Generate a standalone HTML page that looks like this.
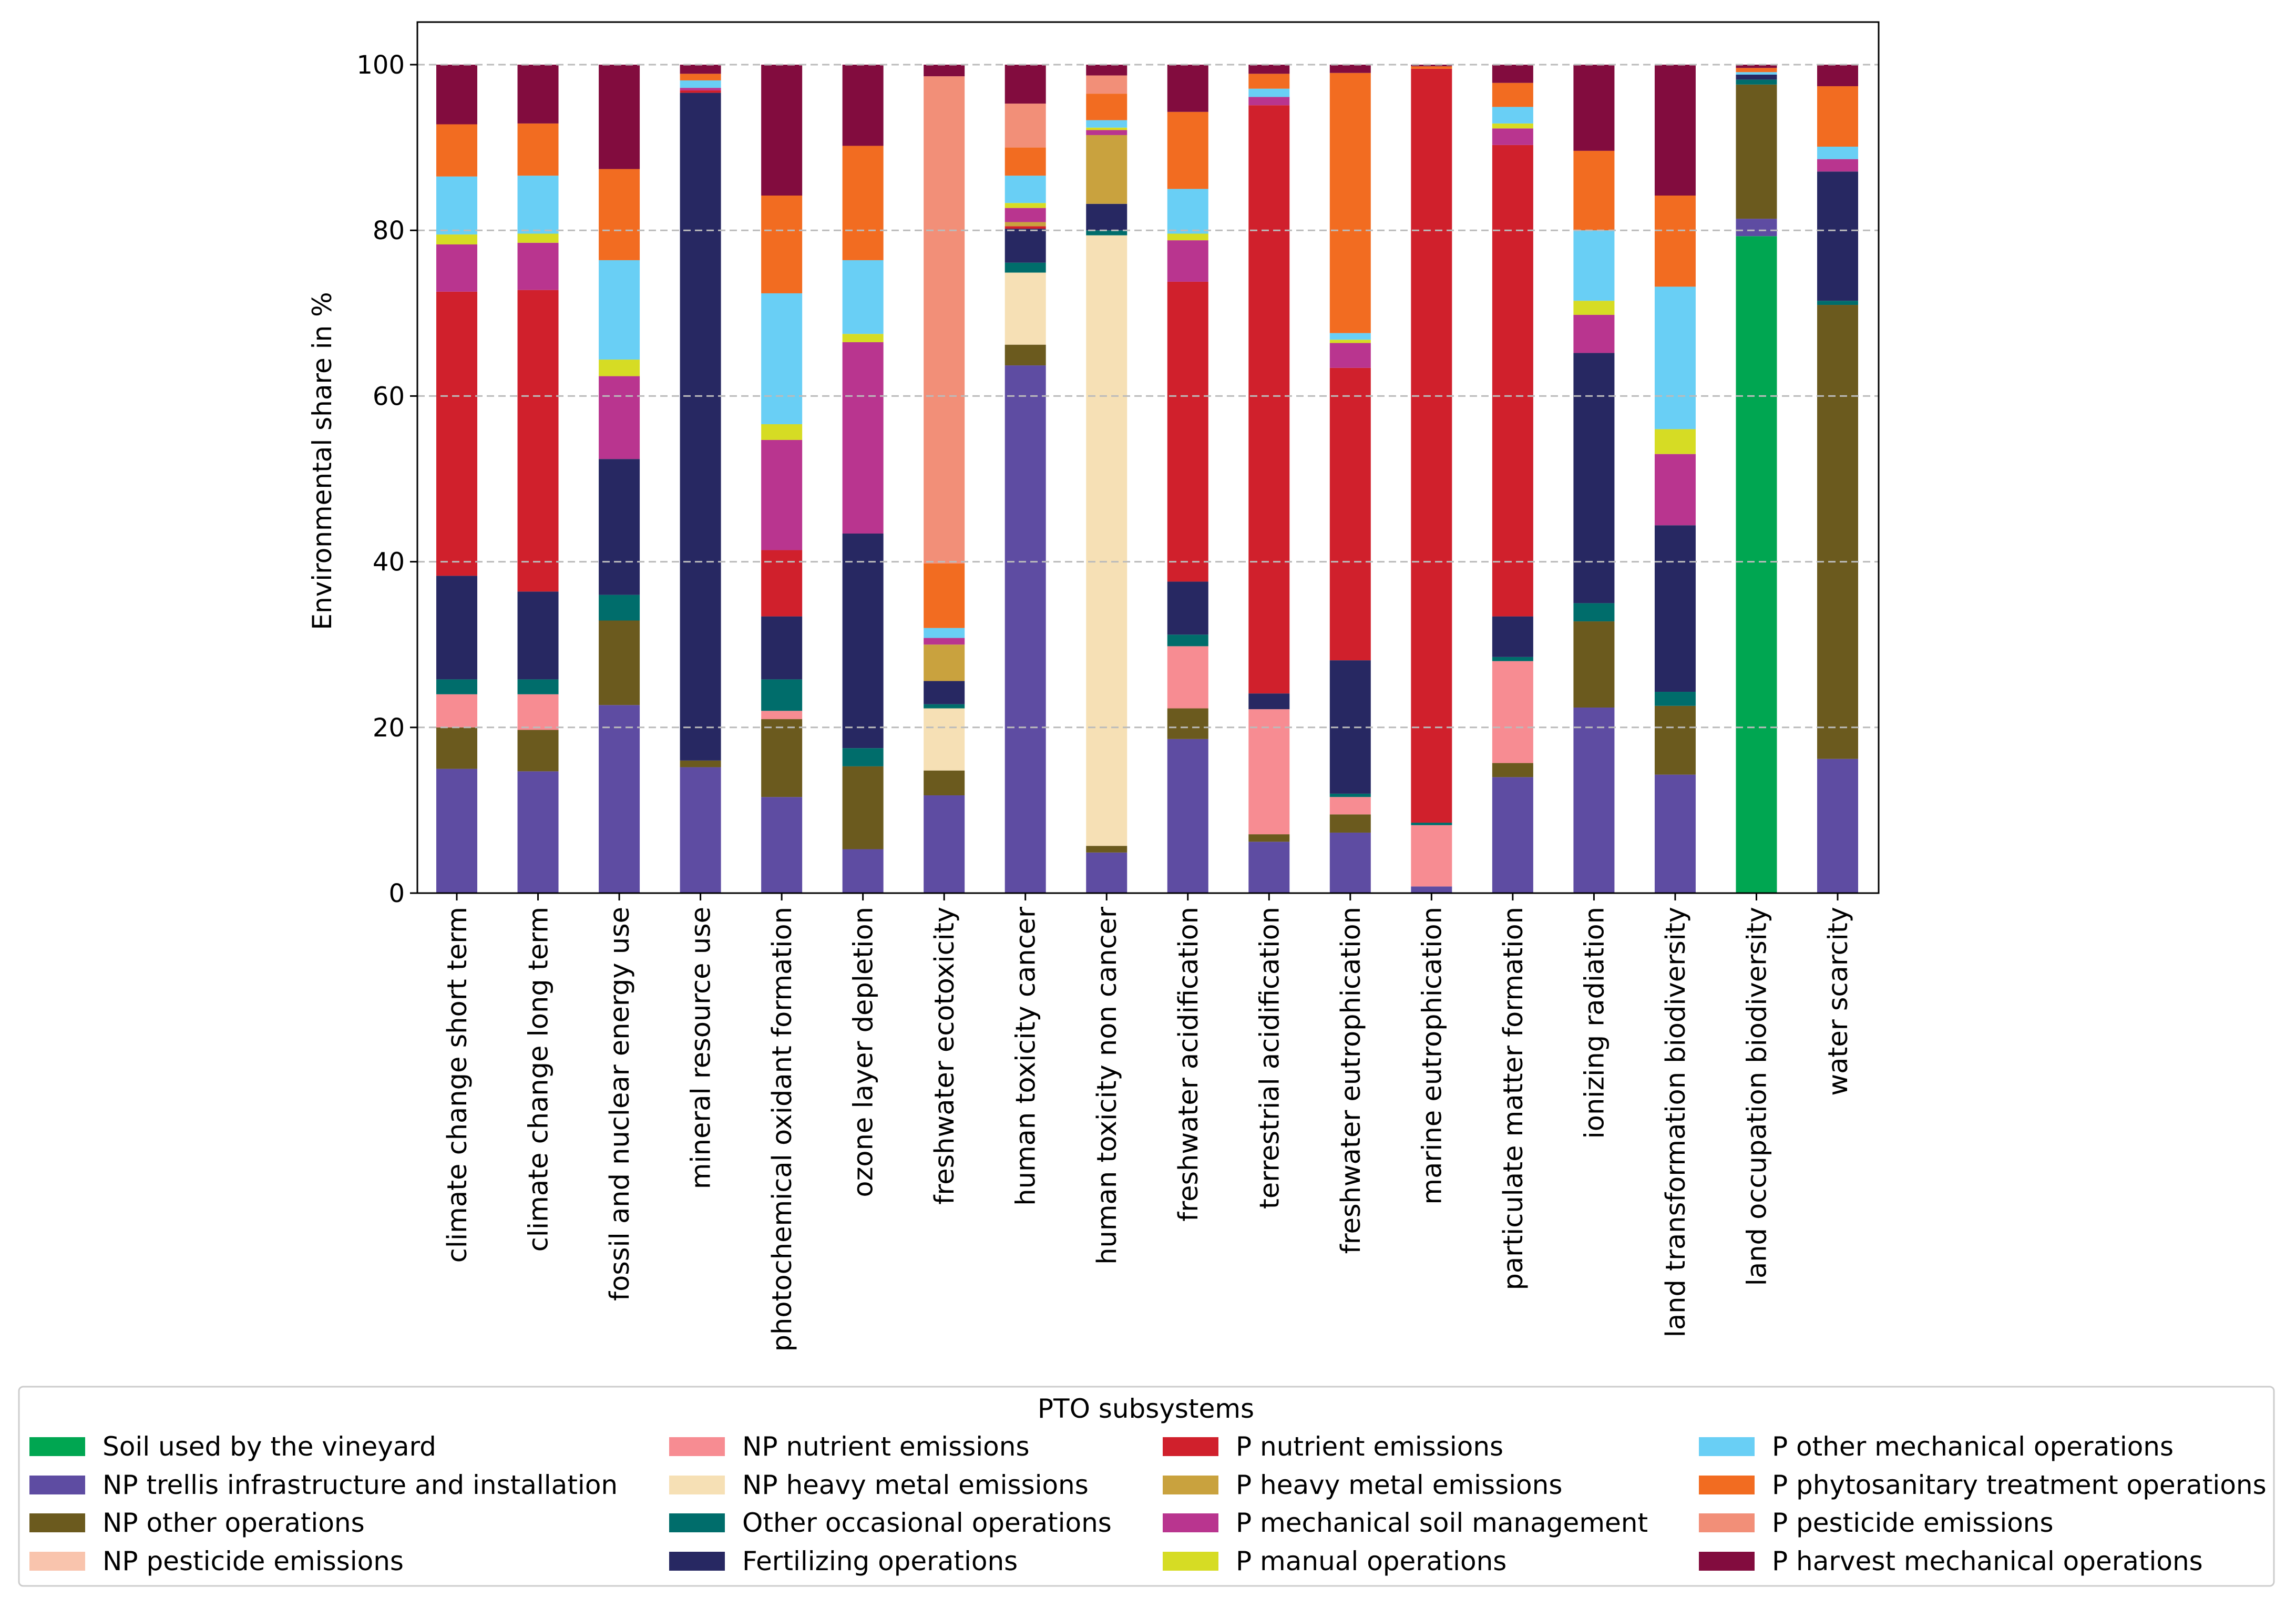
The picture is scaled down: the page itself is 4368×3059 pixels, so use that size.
<!DOCTYPE html>
<html><head><meta charset="utf-8"><style>
html,body{margin:0;padding:0;background:#fff;}
svg{display:block;font-family:"DejaVu Sans","Liberation Sans",sans-serif;}
</style></head><body>
<svg id="chart" xmlns="http://www.w3.org/2000/svg" width="4368" height="3059" viewBox="0 0 4368 3059">
<rect x="0" y="0" width="4368" height="3059" fill="#fff"/>
<g id="bars"></g>
<g id="grid"></g>
<rect x="794" y="42" width="2780" height="1657" fill="none" stroke="#000" stroke-width="3"/>
<g id="yaxis"></g>
<g id="xaxis"></g>
<text x="0" y="0" transform="translate(630,877) rotate(-90)" text-anchor="middle" font-size="50">Environmental share in %</text>
<g id="legend">
<rect x="36" y="2638" width="4290" height="379" rx="8" fill="#fff" stroke="#ccc" stroke-width="3"/>
<text x="2180" y="2697" text-anchor="middle" font-size="50">PTO subsystems</text>
</g>
</svg>
<script>
const categories = ["climate change short term","climate change long term","fossil and nuclear energy use","mineral resource use","photochemical oxidant formation","ozone layer depletion","freshwater ecotoxicity","human toxicity cancer","human toxicity non cancer","freshwater acidification","terrestrial acidification","freshwater eutrophication","marine eutrophication","particulate matter formation","ionizing radiation","land transformation biodiversity","land occupation biodiversity","water scarcity"];
const seriesNames = ["Soil used by the vineyard","NP trellis infrastructure and installation","NP other operations","NP pesticide emissions","NP nutrient emissions","NP heavy metal emissions","Other occasional operations","Fertilizing operations","P nutrient emissions","P heavy metal emissions","P mechanical soil management","P manual operations","P other mechanical operations","P phytosanitary treatment operations","P pesticide emissions","P harvest mechanical operations"];
const seriesColors = ["#00a651","#5e4ca2","#6b5a1e","#f9c4ad","#f78c92","#f6e0b5","#006d6b","#272862","#d0202c","#c9a23e","#b9358f","#d6dc24","#69cff5","#f26c21","#f28f78","#820c3e"];
const soil      = [0,0,0,0,0,0,0,0,0,0,0,0,0,0,0,0,79.3,0];
const npTrellis = [15,14.7,22.7,15.2,11.6,5.3,11.8,63.7,4.9,18.6,6.2,7.3,0.8,14,22.4,14.3,2.1,16.2];
const npOther   = [5,5,10.2,0.8,9.4,10,3,2.5,0.8,3.7,0.9,2.2,0,1.7,10.4,8.3,16.2,54.8];
const npPest    = [0,0,0,0,0,0,0,0,0,0,0,0,0,0,0,0,0,0];
const npNutr    = [4,4.3,0,0,1,0,0,0,0,7.5,15.1,2.1,7.4,12.3,0,0,0,0];
const npHeavy   = [0,0,0,0,0,0,7.5,8.7,73.7,0,0,0,0,0,0,0,0,0];
const occOps    = [1.8,1.8,3.1,0,3.8,2.2,0.5,1.2,0.6,1.4,0,0.4,0.3,0.5,2.2,1.7,0.6,0.5];
const fertOps   = [12.5,10.6,16.4,80.6,7.6,25.9,2.8,4.1,3.2,6.4,1.9,16.1,0,4.9,30.2,20.1,0.6,15.6];
const pNutr     = [34.3,36.4,0,0.3,8,0,0,0.3,0,36.2,71,35.3,91,56.9,0,0,0,0];
const pHeavy    = [0,0,0,0,0,0,4.4,0.5,8.3,0,0,0,0,0,0,0,0,0];
const pMech     = [5.7,5.7,10,0.3,13.3,23.1,0.8,1.7,0.6,5,1,3,0,2,4.6,8.6,0,1.5];
const pManual   = [1.2,1.1,2,0,1.9,1,0,0.6,0.3,0.8,0,0.4,0,0.6,1.7,3,0,0];
const pOtherMech= [7,7,12,0.9,15.8,8.9,1.2,3.3,0.9,5.4,1,0.8,0,2,8.5,17.2,0.3,1.5];
const pPhyto    = [6.3,6.3,11,0.8,11.8,13.8,7.8,3.4,3.2,9.3,1.8,31.4,0.3,2.9,9.6,11,0.5,7.3];
const pPest     = [0,0,0,0,0,0,58.8,5.3,2.2,0,0,0,0,0,0,0,0,0];
const pHarvest  = [7.2,7.1,12.6,1.1,15.8,9.8,1.4,4.7,1.3,5.7,1.1,1,0.2,2.2,10.4,15.8,0.4,2.6];
const yTicks = [0,20,40,60,80,100];

const series = [soil,npTrellis,npOther,npPest,npNutr,npHeavy,occOps,fertOps,pNutr,pHeavy,pMech,pManual,pOtherMech,pPhyto,pPest,pHarvest];
const NS="http://www.w3.org/2000/svg";
const plotL=794, plotR=3574, y0=1699, y100=123;
const yScale=v=>y0-(y0-y100)*v/100;
const step=(3496-869)/(categories.length-1);
const xCenter=i=>869+i*step;
const barW=78;
function mk(tag,attrs,parent){const e=document.createElementNS(NS,tag);for(const k in attrs)e.setAttribute(k,attrs[k]);parent.appendChild(e);return e;}
const bars=document.getElementById('bars');
categories.forEach((c,i)=>{
  let cum=0;
  series.forEach((s,j)=>{
    const v=s[i];
    if(v>0){
      const r=mk('rect',{x:xCenter(i)-barW/2,y:yScale(cum+v),width:barW,height:yScale(cum)-yScale(cum+v),fill:seriesColors[j]},bars);
      
      
    }
    cum+=v;
  });
});
const grid=document.getElementById('grid'), yaxis=document.getElementById('yaxis'), xaxis=document.getElementById('xaxis');
yTicks.forEach(t=>{
  const y=yScale(t);
  if(t>0){const g=mk('line',{x1:plotL,x2:plotR,y1:y,y2:y,stroke:'#bbb','stroke-width':3,'stroke-dasharray':'14,8'},grid);
  
  }
  mk('line',{x1:plotL-14,x2:plotL,y1:y,y2:y,stroke:'#000','stroke-width':3},yaxis);
  const tx=mk('text',{x:plotL-24,y:y+17,'text-anchor':'end','font-size':48},yaxis);
  tx.textContent=t;
  
  
});
categories.forEach((c,i)=>{
  const x=xCenter(i);
  mk('line',{x1:x,x2:x,y1:y0,y2:y0+14,stroke:'#000','stroke-width':3},xaxis);
  const tx=mk('text',{x:0,y:0,transform:`translate(${x+18},${y0+26}) rotate(-90)`,'text-anchor':'end','font-size':51},xaxis);
  tx.textContent=c;
  
  
});
const legend=document.getElementById('legend');
const colX=[56,1273,2212,3232], rowY=[2752,2825,2897,2970];
seriesNames.forEach((n,k)=>{
  const col=Math.floor(k/4), row=k%4;
  const sw=mk('rect',{x:colX[col],y:rowY[row]-18,width:106,height:36,fill:seriesColors[k]},legend);
  
  
  const tx=mk('text',{x:colX[col]+139,y:rowY[row]+17,'font-size':50},legend);
  tx.textContent=n;
  
  
});
</script>
</body></html>
